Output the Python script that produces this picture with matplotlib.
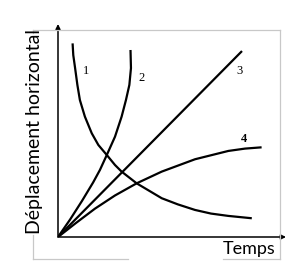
import numpy as np
import matplotlib
matplotlib.use('Agg')
import matplotlib.pyplot as plt
from matplotlib.lines import Line2D

# courbes (unites arbitraires, 0..10)
c1_t = [0.64, 0.67, 0.75, 0.85, 0.96, 1.18, 1.48, 1.77, 2.14, 2.50, 2.79, 3.45, 4.55, 5.26, 6.01, 6.71, 7.47, 8.50]
c1_y = [9.09, 8.54, 7.93, 7.14, 6.43, 5.65, 4.87, 4.32, 3.85, 3.38, 3.07, 2.52, 1.82, 1.53, 1.27, 1.10, 0.99, 0.88]

c2_t = [0.0, 0.53, 1.05, 1.54, 1.84, 2.14, 2.50, 2.79, 2.98, 3.13, 3.20, 3.18]
c2_y = [0.0, 0.82, 1.69, 2.56, 3.15, 3.85, 4.71, 5.65, 6.43, 7.14, 7.93, 8.78]

c3_t = [0.0, 8.07]
c3_y = [0.0, 8.73]

c4_t = [0.0, 0.79, 1.62, 2.50, 3.45, 4.55, 6.01, 7.47, 8.20, 8.93]
c4_y = [0.0, 0.66, 1.33, 1.95, 2.52, 3.07, 3.65, 4.04, 4.15, 4.21]

labels = ['1', '2', '3', '4']
label_t = [1.23, 3.68, 7.94, 8.16]
label_y = [7.79, 7.46, 7.79, 4.62]

W, H = 306, 278
fig = plt.figure(figsize=(W / 100, H / 100), dpi=100)

# cadre gris (partiellement masque)
gris = '#c8c8c8'
def seg(x0, y0, x1, y1):
    fig.add_artist(Line2D([x0 / W, x1 / W], [1 - y0 / H, 1 - y1 / H], color=gris, lw=0.9))
seg(33, 30, 280, 30)
seg(280, 30, 280, 259)
seg(33, 259, 128, 259)
seg(223, 259, 280, 259)
seg(33, 30, 33, 33)
seg(33, 235, 33, 259)

ax = fig.add_axes([58 / W, 41 / H, 228 / W, 213 / H])
ax.set_xlim(0, 10)
ax.set_ylim(0, 10)
ax.axis('off')
ax.patch.set_alpha(0)

for t, y in [(c1_t, c1_y), (c2_t, c2_y), (c3_t, c3_y), (c4_t, c4_y)]:
    ax.plot(t, y, color='black', lw=1.6, solid_capstyle='butt', solid_joinstyle='round')

for s, t, y in zip(labels, label_t, label_y):
    ax.text(t, y, s, fontsize=9, family='Liberation Serif',
            fontweight='bold' if s == '4' else 'normal', ha='center', va='center')

# axes avec fleches
ap = dict(arrowstyle='-|>', color='black', lw=1.1, mutation_scale=7, shrinkA=0, shrinkB=0)
ax.annotate('', xy=(1, 0), xytext=(0, 0), xycoords='axes fraction', arrowprops=ap)
ax.annotate('', xy=(0, 1), xytext=(0, 0), xycoords='axes fraction', arrowprops=ap)

fig.text(34.5 / W, 1 - 132 / H, 'Déplacement horizontal', rotation=90, fontsize=14,
         family='Lato', ha='center', va='center')
fig.text(249.5 / W, 1 - 249 / H, 'Temps', fontsize=13, family='Lato',
         ha='center', va='center')

fig.savefig('out.png', dpi=100)
